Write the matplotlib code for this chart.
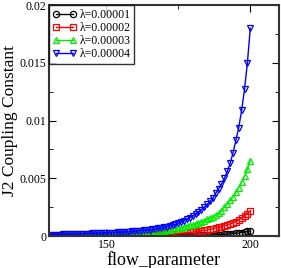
import matplotlib
matplotlib.use("Agg")
import matplotlib.pyplot as plt
from matplotlib.ticker import MultipleLocator

plt.rcParams["font.family"] = ["Liberation Serif", "DejaVu Serif"]

# flow parameter: one point per unit, 130 .. 200
flow = list(range(130, 201))

j2_l1 = [
    0.00001, 0.00001, 0.00001, 0.00001, 0.00001, 0.00001, 0.00001, 0.00001, 0.00001, 0.00001,
    0.00001, 0.00001, 0.00001, 0.00001, 0.00001, 0.00001, 0.00001, 0.00001, 0.00001, 0.00001,
    0.00001, 0.00001, 0.00001, 0.00001, 0.00001, 0.00002, 0.00002, 0.00002, 0.00002, 0.00002,
    0.00002, 0.00002, 0.00002, 0.00002, 0.00002, 0.00002, 0.00002, 0.00002, 0.00002, 0.00002,
    0.00003, 0.00003, 0.00003, 0.00003, 0.00003, 0.00004, 0.00004, 0.00004, 0.00004, 0.00005,
    0.00005, 0.00005, 0.00006, 0.00006, 0.00007, 0.00008, 0.00009, 0.00010, 0.00011, 0.00012,
    0.00013, 0.00015, 0.00017, 0.00019, 0.00021, 0.00024, 0.00027, 0.00031, 0.00035, 0.00040,
    0.00045,
]
j2_l2 = [
    0.00002, 0.00002, 0.00002, 0.00002, 0.00002, 0.00002, 0.00003, 0.00003, 0.00003, 0.00003,
    0.00003, 0.00003, 0.00004, 0.00004, 0.00004, 0.00004, 0.00004, 0.00005, 0.00005, 0.00005,
    0.00005, 0.00006, 0.00006, 0.00006, 0.00007, 0.00007, 0.00007, 0.00008, 0.00008, 0.00009,
    0.00009, 0.00010, 0.00010, 0.00011, 0.00011, 0.00012, 0.00012, 0.00013, 0.00013, 0.00014,
    0.00016, 0.00017, 0.00018, 0.00020, 0.00021, 0.00023, 0.00025, 0.00027, 0.00030, 0.00032,
    0.00035, 0.00038, 0.00042, 0.00046, 0.00050, 0.00054, 0.00059, 0.00064, 0.00070, 0.00076,
    0.00083, 0.00090, 0.00097, 0.00105, 0.00114, 0.00126, 0.00140, 0.00157, 0.00175, 0.00195,
    0.00220,
]
j2_l3 = [
    0.00004, 0.00004, 0.00005, 0.00005, 0.00005, 0.00006, 0.00006, 0.00006, 0.00007, 0.00007,
    0.00007, 0.00007, 0.00008, 0.00008, 0.00008, 0.00009, 0.00009, 0.00009, 0.00010, 0.00010,
    0.00011, 0.00012, 0.00013, 0.00014, 0.00015, 0.00016, 0.00017, 0.00018, 0.00020, 0.00021,
    0.00023, 0.00025, 0.00027, 0.00029, 0.00031, 0.00034, 0.00036, 0.00039, 0.00042, 0.00045,
    0.00048, 0.00052, 0.00056, 0.00060, 0.00064, 0.00069, 0.00074, 0.00080, 0.00086, 0.00093,
    0.00100, 0.00108, 0.00116, 0.00125, 0.00134, 0.00144, 0.00155, 0.00167, 0.00180, 0.00200,
    0.00220, 0.00250, 0.00280, 0.00310, 0.00340, 0.00380, 0.00420, 0.00470, 0.00520, 0.00580,
    0.00650,
]
j2_l4 = [
    0.00010, 0.00011, 0.00012, 0.00012, 0.00013, 0.00014, 0.00015, 0.00016, 0.00016, 0.00017,
    0.00018, 0.00019, 0.00020, 0.00021, 0.00022, 0.00023, 0.00024, 0.00025, 0.00026, 0.00027,
    0.00028, 0.00029, 0.00030, 0.00031, 0.00032, 0.00034, 0.00035, 0.00037, 0.00039, 0.00041,
    0.00043, 0.00045, 0.00047, 0.00049, 0.00052, 0.00055, 0.00058, 0.00062, 0.00066, 0.00070,
    0.00075, 0.00081, 0.00087, 0.00094, 0.00101, 0.00110, 0.00121, 0.00133, 0.00146, 0.00160,
    0.00175, 0.00190, 0.00210, 0.00230, 0.00250, 0.00275, 0.00300, 0.00330, 0.00370, 0.00410,
    0.00450, 0.00500, 0.00560, 0.00630, 0.00720, 0.00830, 0.00940, 0.01090, 0.01270, 0.01500,
    0.01800,
]

labels = ["λ=0.00001", "λ=0.00002", "λ=0.00003", "λ=0.00004"]
colors = ["black", "red", "#00ee00", "blue"]
markers = ["o", "s", "^", "v"]

fig = plt.figure(figsize=(2.81, 2.68), dpi=100)
ax = fig.add_axes([0.174, 0.119, 0.819, 0.862])

for ys, lab, c, m in zip([j2_l1, j2_l2, j2_l3, j2_l4], labels, colors, markers):
    ax.plot(flow, ys, color=c, marker=m, markersize=4.5, markerfacecolor="none",
            markeredgewidth=0.9, linewidth=1.0, label=lab)

ax.set_xlim(130, 210)
ax.set_ylim(0, 0.02)
ax.xaxis.set_major_locator(MultipleLocator(50))
ax.xaxis.set_minor_locator(MultipleLocator(25))
ax.yaxis.set_minor_locator(MultipleLocator(0.0025))
ax.set_yticks([0, 0.005, 0.01, 0.015, 0.02])
ax.set_yticklabels(["0", "0.005", "0.01", "0.015", "0.02"])
ax.tick_params(which="both", direction="in", top=True, right=True, labelsize=8.5, pad=2)
ax.tick_params(which="major", length=5)
ax.tick_params(which="minor", length=3)
for s in ax.spines.values():
    s.set_linewidth(1.5)
    s.set_color("#333333")

ax.set_xlabel("flow_parameter", fontsize=13, labelpad=0)
ax.set_ylabel("J2 Coupling Constant", fontsize=12.5, va="center")
ax.yaxis.set_label_coords(-0.17, 0.5)

leg = ax.legend(loc="upper left", numpoints=2, fontsize=8.5, frameon=True, fancybox=False,
                borderaxespad=0, handlelength=2.0, handletextpad=0.3, borderpad=0.3,
                labelspacing=0.1)
leg.get_frame().set_edgecolor("black")
leg.get_frame().set_linewidth(1.0)

fig.savefig("out.png", dpi=100)
